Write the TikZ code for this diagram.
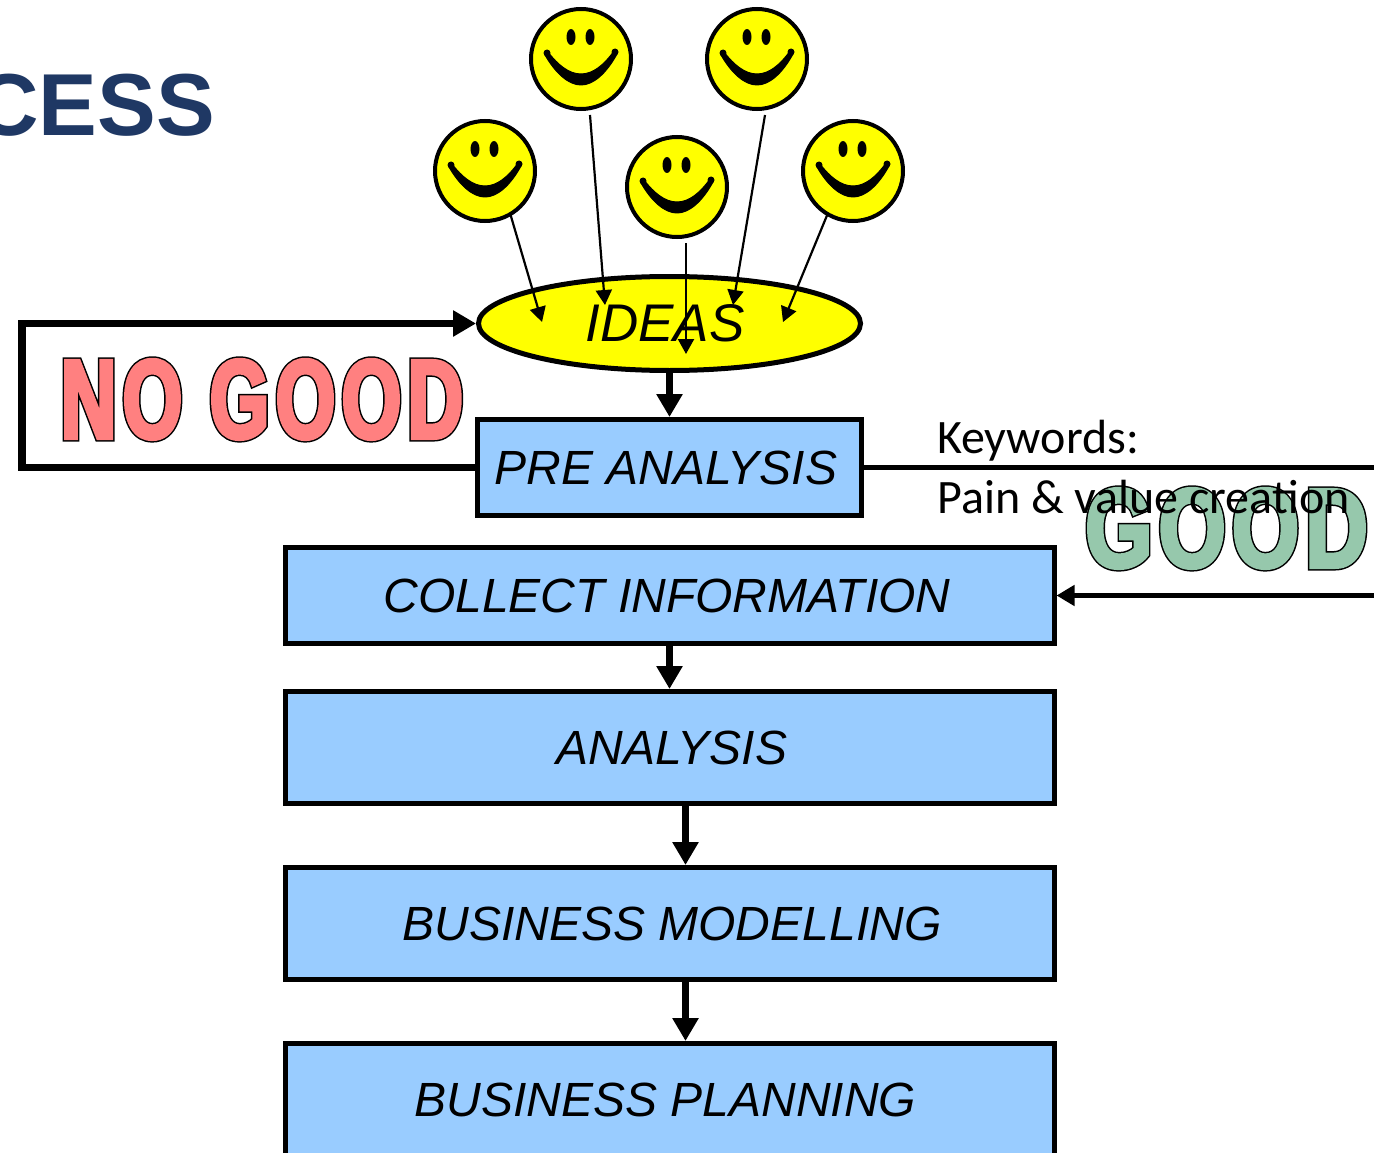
\documentclass[tikz,border=0pt]{standalone}
\usepackage{fontspec}
\setmainfont{Liberation Sans}
\newfontfamily\carl{Carlito}
\newfontfamily\nfont[FakeStretch=0.68,LetterSpace=6]{Liberation Sans Bold}
\newfontfamily\gfont[FakeStretch=0.765,LetterSpace=6]{Liberation Sans Bold}
\usetikzlibrary{arrows.meta,shapes.geometric}
\definecolor{boxblue}{RGB}{153,204,255}
\definecolor{titleblue}{RGB}{31,56,100}
\definecolor{pureyellow}{RGB}{255,255,0}
\newcommand{\outlined}[2]{\rlap{\special{pdf:literal direct 2 Tr 7 w 3 M 0 0 0 RG 0 0 0 rg}#2}\special{pdf:literal direct 2 Tr 4 w 3 M #1 RG #1 rg}#2\special{pdf:literal direct 0 Tr 0 0 0 RG 0 0 0 rg}}
\tikzset{
  x=1pt,y=-1pt,
  flowbox/.style={draw=black,line width=5pt,fill=boxblue,font=\fontsize{48}{60}\selectfont\itshape,inner sep=0pt,minimum height=#1},
  flowbox/.default=112pt,
  bigarrow/.style={line width=7pt,-{Triangle[length=23pt,width=25pt]}},
  thinarrow/.style={line width=2.2pt,-{Triangle[length=15pt,width=16pt]}},
  face/.style={circle,draw=black,line width=4pt,fill=pureyellow,minimum size=100pt,inner sep=0pt},
  smile/.pic={
    \fill[black] (-10,-22) ellipse[x radius=4.5,y radius=8];
    \fill[black] (9,-22) ellipse[x radius=4.5,y radius=8];
    \fill[black,draw=black,line width=1pt,line join=round] (-36,-4) .. controls (-25,15) and (-12,26) .. (0,26)
       .. controls (12,26) and (25,15) .. (36,-5) -- (33,-8) .. controls (23,6) and (12,15) .. (0,15)
       .. controls (-12,15) and (-23,6) .. (-33,-7) -- cycle;
    \fill[black] (-34,-6) circle[radius=3.5];
    \fill[black] (34,-7) circle[radius=3.5];
  }
}
\begin{document}
\begin{tikzpicture}
\useasboundingbox (0,0) rectangle (1374,1153);
\clip (0,0) rectangle (1374,1153);
\node[anchor=base east,inner sep=0pt,text=titleblue,font=\fontsize{88}{100}\selectfont\bfseries] (title) at (215,136) {CESS};

\node[anchor=base,inner sep=0pt,font=\nfont\fontsize{112}{120}\selectfont] (nogood) at (262,438) {\outlined{1 .502 .502}{NO GOOD}};
\node[anchor=base,inner sep=0pt,font=\gfont\fontsize{112}{120}\selectfont] (good) at (1226.5,567) {\outlined{.588 .784 .675}{GOOD}};

\node[face] (f1) at (485,171) {};
\node[face] (f2) at (581,59) {};
\node[face] (f3) at (677,187) {};
\node[face] (f4) at (757,59) {};
\node[face] (f5) at (853,171) {};
\foreach \f in {f1,f2,f3,f4,f5} \pic at (\f) {smile};

\node[ellipse,draw=black,line width=5pt,fill=pureyellow,minimum width=382pt,minimum height=94pt,inner sep=0pt,font=\fontsize{53}{60}\selectfont\itshape] (ideas) at (669.5,323.5) {IDEAS\hspace*{9pt}};
\node[flowbox=96pt,minimum width=384pt] (pre) at (669.5,467.5) {PRE ANALYSIS\hspace*{7pt}};
\node[flowbox=96pt,minimum width=769pt] (collect) at (669.5,595.5) {COLLECT INFORMATION\hspace*{5pt}};
\node[flowbox,minimum width=769pt] (ana) at (669.5,747.5) {\hspace*{5pt}ANALYSIS};
\node[flowbox,minimum width=769pt] (bm) at (669.5,923.5) {\hspace*{5pt}BUSINESS MODELLING};
\node[flowbox,minimum width=769pt] (bp) at (669.5,1099.5) {BUSINESS PLANNING\hspace*{8pt}};

\coordinate (s1) at (510,213); \coordinate (e1) at (542,322);
\coordinate (s2) at (590,115); \coordinate (e2) at (605,305);
\coordinate (s3) at (686,243); \coordinate (e3) at (686,354);
\coordinate (s4) at (765,115); \coordinate (e4) at (733,305);
\coordinate (s5) at (828,213); \coordinate (e5) at (783,322);
\foreach \i in {1,...,5} \draw[thinarrow] (s\i) -- (e\i);

\draw[bigarrow] (ideas.south) -- (pre.north);
\draw[bigarrow] (collect.south) -- (ana.north);
\draw[bigarrow] ([xshift=16pt]ana.south) -- ([xshift=16pt]bm.north);
\draw[bigarrow] ([xshift=16pt]bm.south) -- ([xshift=16pt]bp.north);

\coordinate (lb) at (22,467.5);
\coordinate (lt) at (22,323.5);
\draw[bigarrow,line width=7.5pt,line join=miter] (pre.west) -- (lb) -- (lt) -- (ideas.west);

\coordinate (rt) at (1374,467.5);
\coordinate (rb) at (1374,595.5);
\draw[line width=5.5pt] (pre.east) -- (rt);
\draw[line width=5.5pt,-{Triangle[length=18pt,width=20pt]}] (rb) -- (collect.east);

\node[anchor=base west,inner sep=0pt,font=\carl\fontsize{48}{50}\selectfont] (kw) at (937,453) {Keywords:};
\node[anchor=base west,inner sep=0pt,font=\carl\fontsize{48}{50}\selectfont] (pv) at (937,513) {Pain \& value creation};
\end{tikzpicture}
\end{document}
